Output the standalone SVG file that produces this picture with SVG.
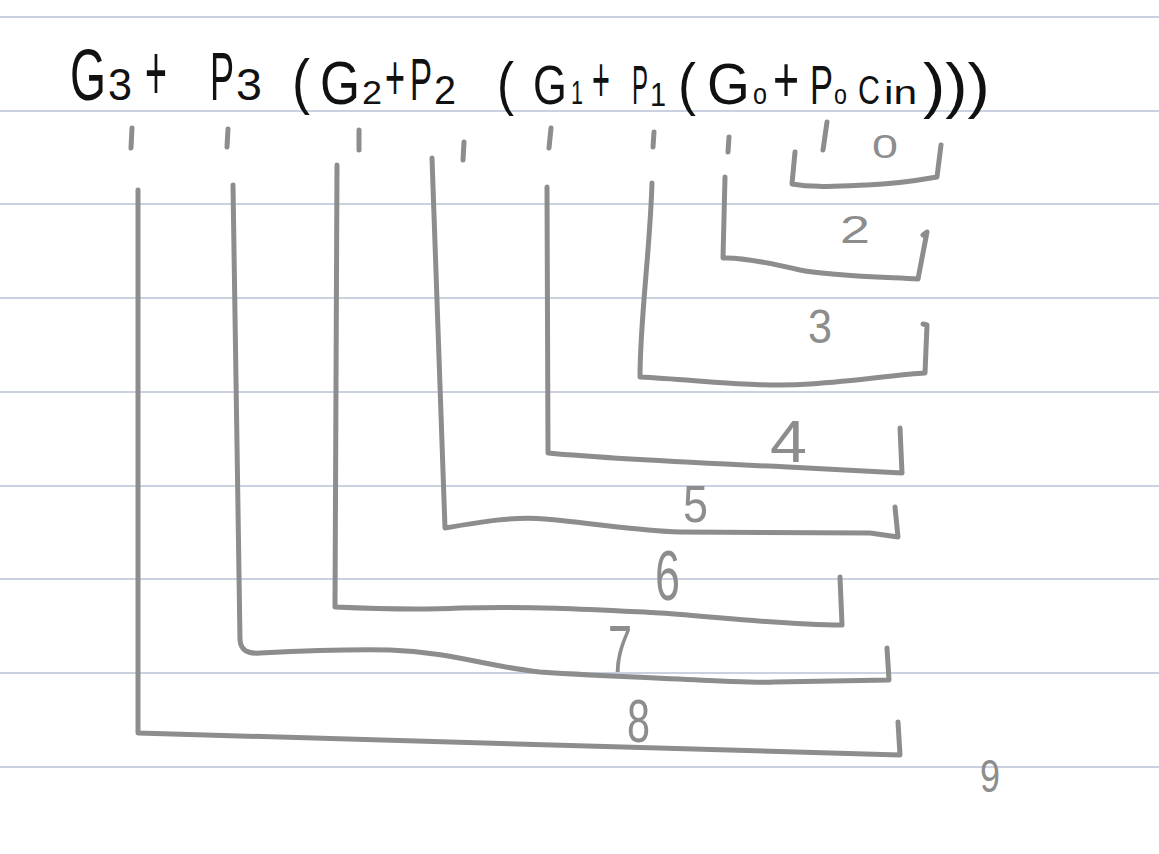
<svg xmlns="http://www.w3.org/2000/svg" width="1159" height="854" viewBox="0 0 1159 854">
<style>
.rule{stroke:#b9c3d8;stroke-width:1.5}
.f{font-family:"Liberation Sans",Arial,sans-serif;fill:#111}
.g{fill:none;stroke:#8d8d8d;stroke-width:5;stroke-linecap:round;stroke-linejoin:round}
.lb{font-family:"Liberation Sans",Arial,sans-serif;fill:#8d8d8d}
</style>
<rect width="1159" height="854" fill="#ffffff"/>
<g id="ruled-lines">
<line class="rule" x1="0" y1="17" x2="1159" y2="17"/>
<line class="rule" x1="0" y1="111" x2="1159" y2="111"/>
<line class="rule" x1="0" y1="204" x2="1159" y2="204"/>
<line class="rule" x1="0" y1="298" x2="1159" y2="298"/>
<line class="rule" x1="0" y1="392" x2="1159" y2="392"/>
<line class="rule" x1="0" y1="486" x2="1159" y2="486"/>
<line class="rule" x1="0" y1="579" x2="1159" y2="579"/>
<line class="rule" x1="0" y1="673" x2="1159" y2="673"/>
<line class="rule" x1="0" y1="767" x2="1159" y2="767"/>
</g>
<g id="formula">
<text class="f" font-size="72" transform="translate(70,100) scale(0.643,1)">G</text>
<text class="f" font-size="44" transform="translate(108,100) scale(0.98,1)">3</text>
<text class="f" font-size="80" transform="translate(145,100) scale(0.47,1)">+</text>
<text class="f" font-size="68" transform="translate(210,100) scale(0.53,1)">P</text>
<text class="f" font-size="44" transform="translate(236,100) scale(1.06,1)">3</text>
<text class="f" font-size="62" transform="translate(292,102) scale(0.87,1)">(</text>
<text class="f" font-size="62" transform="translate(320,104) scale(0.83,1)">G</text>
<text class="f" font-size="34" transform="translate(362,104) scale(1.06,1)">2</text>
<text class="f" font-size="64" transform="translate(385,100) scale(0.535,1)">+</text>
<text class="f" font-size="60" transform="translate(410,100) scale(0.55,1)">P</text>
<text class="f" font-size="40" transform="translate(434,104) scale(0.99,1)">2</text>
<text class="f" font-size="60" transform="translate(497,104) scale(0.85,1)">(</text>
<text class="f" font-size="55" transform="translate(533,104) scale(0.79,1)">G</text>
<text class="f" font-size="34" transform="translate(571,104) scale(0.635,1)">1</text>
<text class="f" font-size="64" transform="translate(592,102) scale(0.48,1)">+</text>
<text class="f" font-size="55" transform="translate(632,104) scale(0.436,1)">P</text>
<text class="f" font-size="34" transform="translate(650,106) scale(0.85,1)">1</text>
<text class="f" font-size="58" transform="translate(678,104) scale(0.93,1)">(</text>
<text class="f" font-size="58" transform="translate(707,104) scale(0.95,1)">G</text>
<text class="f" font-size="30" transform="translate(753,104) scale(0.84,1)">o</text>
<text class="f" font-size="64" transform="translate(773,102) scale(0.7,1)">+</text>
<text class="f" font-size="56" transform="translate(810,104) scale(0.615,1)">P</text>
<text class="f" font-size="28" transform="translate(834,104) scale(0.83,1)">o</text>
<text class="f" font-size="40" transform="translate(858,104) scale(0.76,1)">C</text>
<text class="f" font-size="34" transform="translate(884,104) scale(1.25,1)">in</text>
<text class="f" font-size="62" transform="translate(923,106) scale(1.08,1)">)))</text>
</g>
<g id="ticks">
<path class="g" d="M132,128 L131,148"/>
<path class="g" d="M228,129 L227,147"/>
<path class="g" d="M359,130 L359,150"/>
<path class="g" d="M464,142 L463,160"/>
<path class="g" d="M551,128 L549,148"/>
<path class="g" d="M654,132 L653,147"/>
<path class="g" d="M729,137 L728,152"/>
<path class="g" d="M827,122 L823,150"/>
</g>
<g id="connectors">
<path id="b0" class="g" d="M795,152 L792,184 C815,188 835,186 867,185 C895,184 920,180 937,177 L941,145"/>
<path id="b2" class="g" d="M725,177 L723,258 C740,257 770,263 800,270 C830,276 880,277 918,279 L927,232 L923,235"/>
<path id="b3" class="g" d="M652,183 C650,250 640,320 640,377 C700,380 760,388 810,384 C860,381 900,374 925,373 L927,325 L923,324"/>
<path id="b4" class="g" d="M547,187 L548,453 C600,458 700,463 788,467 L902,473 L900,428"/>
<path id="b5" class="g" d="M432,158 L445,528 C480,522 515,516 545,519 C600,524 640,531 680,532 L870,533 L898,537 L895,507"/>
<path id="b6" class="g" d="M337,165 L335,607 C380,609 420,610 460,608 C540,606 600,610 660,613 C720,617 780,625 842,625 L840,577"/>
<path id="b7" class="g" d="M233,185 C236,300 237,500 240,640 C241,651 248,654 260,653 C300,651 340,649 390,650 C450,652 490,667 540,672 C600,676 660,678 720,681 C745,682 760,683 775,682 L889,680 L887,648"/>
<path id="b8" class="g" d="M138,190 L138,733 L900,755 L898,722"/>
</g>
<g id="labels">
<text class="lb" x="872" y="158" font-size="33" textLength="26" lengthAdjust="spacingAndGlyphs">0</text>
<text class="lb" x="840" y="243" font-size="39" textLength="30" lengthAdjust="spacingAndGlyphs">2</text>
<text class="lb" x="808" y="343" font-size="49" textLength="24" lengthAdjust="spacingAndGlyphs">3</text>
<text class="lb" x="770" y="462" font-size="60" textLength="37" lengthAdjust="spacingAndGlyphs">4</text>
<text class="lb" x="683" y="522" font-size="52" textLength="25" lengthAdjust="spacingAndGlyphs">5</text>
<text class="lb" x="655" y="600" font-size="70" textLength="25" lengthAdjust="spacingAndGlyphs">6</text>
<text class="lb" x="608" y="672" font-size="66" textLength="24" lengthAdjust="spacingAndGlyphs">7</text>
<text class="lb" x="627" y="742" font-size="62" textLength="23" lengthAdjust="spacingAndGlyphs">8</text>
<text class="lb" x="980" y="792" font-size="47" textLength="20" lengthAdjust="spacingAndGlyphs">9</text>
</g>
</svg>
